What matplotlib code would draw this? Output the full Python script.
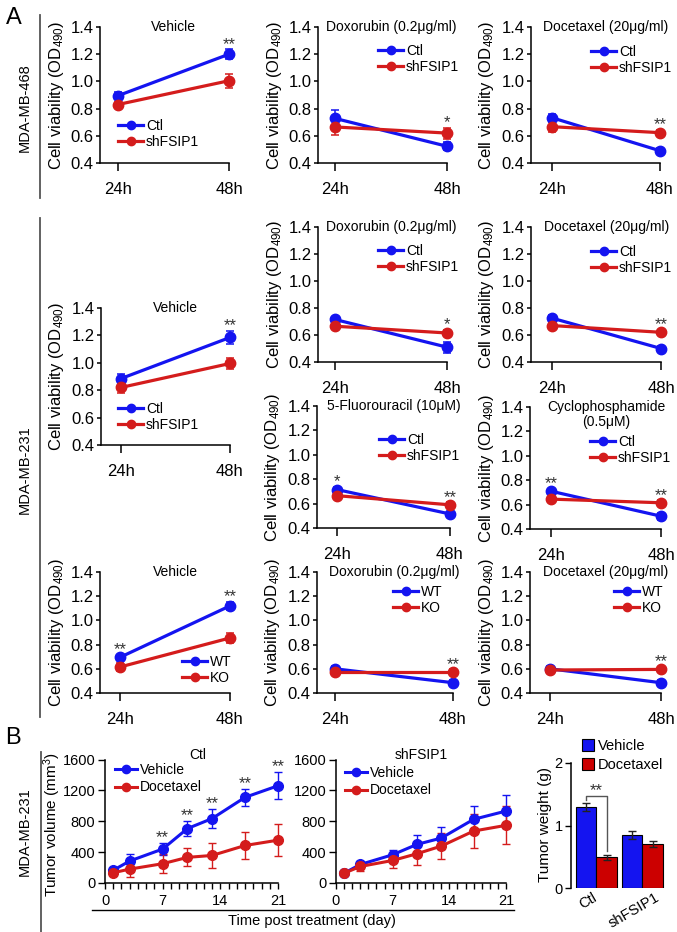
import numpy as np
import matplotlib
matplotlib.use("Agg")
import matplotlib.pyplot as plt
import matplotlib.transforms as mtransforms
from matplotlib.lines import Line2D
from matplotlib.patches import Patch
from matplotlib.ticker import MultipleLocator

plt.rcParams["font.family"] = ["Liberation Sans", "DejaVu Sans"]
plt.rcParams["mathtext.fontset"] = "custom"
plt.rcParams["mathtext.rm"] = "Liberation Sans"
plt.rcParams["mathtext.it"] = "Liberation Sans:italic"
plt.rcParams["axes.linewidth"] = 1.1

W, H = 677, 932
BLUE = "#1414f0"
RED = "#d41c1c"
BAR_RED = "#cc0000"
STAR = "#333333"

# ------------------------------------------------------------
# Data - panel A (cell viability, OD490)
# ------------------------------------------------------------
time_labels = ["24h", "48h"]

# MDA-MB-468, Ctl vs shFSIP1
v468_ctl, v468_ctl_err = [0.895, 1.200], [0.025, 0.035]
v468_sh, v468_sh_err = [0.830, 1.005], [0.020, 0.050]
dox468_ctl, dox468_ctl_err = [0.728, 0.523], [0.060, 0.030]
dox468_sh, dox468_sh_err = [0.665, 0.620], [0.060, 0.040]
doc468_ctl, doc468_ctl_err = [0.733, 0.490], [0.030, 0.020]
doc468_sh, doc468_sh_err = [0.667, 0.623], [0.040, 0.020]

# MDA-MB-231, Ctl vs shFSIP1
v231_ctl, v231_ctl_err = [0.885, 1.185], [0.030, 0.050]
v231_sh, v231_sh_err = [0.820, 0.995], [0.040, 0.040]
dox231_ctl, dox231_ctl_err = [0.715, 0.510], [0.020, 0.040]
dox231_sh, dox231_sh_err = [0.665, 0.615], [0.020, 0.020]
doc231_ctl, doc231_ctl_err = [0.725, 0.500], [0.020, 0.020]
doc231_sh, doc231_sh_err = [0.670, 0.620], [0.020, 0.020]
fu231_ctl, fu231_ctl_err = [0.715, 0.515], [0.020, 0.020]
fu231_sh, fu231_sh_err = [0.665, 0.590], [0.030, 0.020]
cyc231_ctl, cyc231_ctl_err = [0.710, 0.505], [0.020, 0.030]
cyc231_sh, cyc231_sh_err = [0.645, 0.615], [0.020, 0.020]

# MDA-MB-231, WT vs KO
vko_wt, vko_wt_err = [0.695, 1.120], [0.020, 0.030]
vko_ko, vko_ko_err = [0.615, 0.855], [0.030, 0.040]
doxko_wt, doxko_wt_err = [0.600, 0.485], [0.020, 0.020]
doxko_ko, doxko_ko_err = [0.575, 0.575], [0.020, 0.020]
docko_wt, docko_wt_err = [0.600, 0.485], [0.020, 0.020]
docko_ko, docko_ko_err = [0.590, 0.595], [0.020, 0.020]

# ------------------------------------------------------------
# Data - panel B (xenograft)
# ------------------------------------------------------------
days = [1, 3, 7, 10, 13, 17, 21]
ctl_vehicle = [165, 285, 440, 705, 835, 1110, 1260]
ctl_vehicle_err = [30, 90, 80, 100, 120, 110, 175]
ctl_docetaxel = [133, 180, 250, 332, 357, 486, 555]
ctl_docetaxel_err = [25, 105, 120, 115, 160, 175, 205]
sh_vehicle = [127, 240, 366, 500, 582, 825, 932]
sh_vehicle_err = [20, 40, 65, 125, 143, 170, 213]
sh_docetaxel = [127, 214, 292, 379, 478, 673, 747]
sh_docetaxel_err = [20, 60, 100, 143, 165, 215, 247]
ctl_star_idx = [2, 3, 4, 5, 6]

weight_groups = ["Ctl", "shFSIP1"]
weight_vehicle, weight_vehicle_err = [1.30, 0.85], [0.06, 0.07]
weight_docetaxel, weight_docetaxel_err = [0.49, 0.71], [0.04, 0.05]


fig = plt.figure(figsize=(W / 100, H / 100), dpi=100)


def fx(x):
    return x / W


def fy(y):
    return 1 - y / H


def axes_px(left, right, top, bottom):
    return fig.add_axes([fx(left), fy(bottom), (right - left) / W, (bottom - top) / H])


def no_clip(container):
    for art in container.get_children():
        art.set_clip_on(False)


def viability_panel(box, title, m1, e1, m2, e2, names, stars, leg_xy):
    yax, x24, x48, top, bottom = box
    ax = axes_px(yax, x48, top, bottom)
    x = np.arange(2)
    h1 = ax.errorbar(x, m1, yerr=e1, color=BLUE, lw=2.3, marker="o", ms=7.5,
                     capsize=3, elinewidth=1.1, capthick=1.1)
    h2 = ax.errorbar(x, m2, yerr=e2, color=RED, lw=2.3, marker="o", ms=7.5,
                     capsize=3, elinewidth=1.1, capthick=1.1)
    no_clip(h1)
    no_clip(h2)

    ax.set_xlim(-(x24 - yax) / (x48 - x24), 1)
    ax.set_ylim(0.4, 1.4)
    ax.set_xticks(x, time_labels)
    ax.set_yticks(np.arange(0.4, 1.41, 0.2))
    ax.set_yticklabels([f"{v:.1f}" for v in np.arange(0.4, 1.41, 0.2)])
    for s in ["top", "right"]:
        ax.spines[s].set_visible(False)
    ax.tick_params(axis="x", length=5.5, width=1.1, pad=8, labelsize=12)
    ax.tick_params(axis="y", length=3, width=1.1, pad=1.5, labelsize=12)

    if "\n" in title:
        first, second = title.split("\n")
        ax.text(0.5, 1.4, first, ha="center", va="center", fontsize=10)
        ax.annotate(second, (0.5, 1.4), xytext=(0, -10.5), textcoords="offset points",
                    ha="center", va="center", fontsize=10)
    else:
        ax.text(0.5, 1.4, title, ha="center", va="center", fontsize=10)

    for idx, txt in stars:
        ytop = max(m1[idx] + e1[idx], m2[idx] + e2[idx])
        ax.annotate(txt, (idx, ytop), xytext=(0, 0.5), textcoords="offset points",
                    ha="center", va="baseline", fontsize=12, color=STAR,
                    annotation_clip=False)

    lx, ly = leg_xy
    ax.legend([h1[0], h2[0]], names, loc="upper left",
              bbox_to_anchor=(fx(lx), fy(ly - 8)), bbox_transform=fig.transFigure,
              frameon=False, fontsize=10, handlelength=1.8, handletextpad=0.2,
              labelspacing=0.12, borderpad=0, borderaxespad=0, markerscale=0.8)

    fig.text(fx(yax - 44), fy((top + bottom) / 2), "Cell viability (OD$_{490}$)",
             rotation=90, ha="center", va="center", fontsize=12)
    return ax


sh_names = ["Ctl", "shFSIP1"]
ko_names = ["WT", "KO"]

# Row 1: MDA-MB-468
viability_panel((100, 118, 229, 27, 163), "Vehicle",
                v468_ctl, v468_ctl_err, v468_sh, v468_sh_err, sh_names,
                [(1, "**")], (118, 127))
viability_panel((318, 335, 447, 27, 163), "Doxorubin (0.2μg/ml)",
                dox468_ctl, dox468_ctl_err, dox468_sh, dox468_sh_err, sh_names,
                [(1, "*")], (378, 52))
viability_panel((531, 552, 660, 27, 163), "Docetaxel (20μg/ml)",
                doc468_ctl, doc468_ctl_err, doc468_sh, doc468_sh_err, sh_names,
                [(1, "**")], (591, 53))

# Rows 2-3: MDA-MB-231 shFSIP1
viability_panel((101, 121, 230, 308, 445), "Vehicle",
                v231_ctl, v231_ctl_err, v231_sh, v231_sh_err, sh_names,
                [(1, "**")], (118, 410))
viability_panel((318, 335, 447, 227, 362), "Doxorubin (0.2μg/ml)",
                dox231_ctl, dox231_ctl_err, dox231_sh, dox231_sh_err, sh_names,
                [(1, "*")], (378, 252))
viability_panel((531, 552, 661, 227, 362), "Docetaxel (20μg/ml)",
                doc231_ctl, doc231_ctl_err, doc231_sh, doc231_sh_err, sh_names,
                [(1, "**")], (591, 253))
viability_panel((317, 337, 450, 406, 528), "5-Fluorouracil (10μM)",
                fu231_ctl, fu231_ctl_err, fu231_sh, fu231_sh_err, sh_names,
                [(0, "*"), (1, "**")], (379, 441))
viability_panel((530, 551, 661, 407, 529), "Cyclophosphamide\n(0.5μM)",
                cyc231_ctl, cyc231_ctl_err, cyc231_sh, cyc231_sh_err, sh_names,
                [(0, "**"), (1, "**")], (590, 443))

# Row 4: MDA-MB-231 WT / KO
viability_panel((100, 120, 230, 572, 693), "Vehicle",
                vko_wt, vko_wt_err, vko_ko, vko_ko_err, ko_names,
                [(0, "**"), (1, "**")], (182, 663))
viability_panel((317, 335, 453, 572, 693), "Doxorubin (0.2μg/ml)",
                doxko_wt, doxko_wt_err, doxko_ko, doxko_ko_err, ko_names,
                [(1, "**")], (393, 593))
viability_panel((530, 550, 661, 572, 693), "Docetaxel (20μg/ml)",
                docko_wt, docko_wt_err, docko_ko, docko_ko_err, ko_names,
                [(1, "**")], (614, 593))


# ------------------------------------------------------------
# Panel B: tumor volume curves
# ------------------------------------------------------------
def volume_panel(left, right, title, title_x, veh, veh_err, doc, doc_err,
                 star_idx, leg_xy):
    ax = axes_px(left, right, 759.5, 883)
    h1 = ax.errorbar(days, veh, yerr=veh_err, color=BLUE, lw=2.2, marker="o", ms=7,
                     capsize=3, elinewidth=1.0, capthick=1.0)
    h2 = ax.errorbar(days, doc, yerr=doc_err, color=RED, lw=2.2, marker="o", ms=7,
                     capsize=3, elinewidth=1.0, capthick=1.0)
    no_clip(h1)
    no_clip(h2)
    ax.set_xlim(0, 21)
    ax.set_ylim(0, 1600)
    ax.set_xticks([0, 7, 14, 21])
    ax.xaxis.set_minor_locator(MultipleLocator(1))
    ax.set_yticks(np.arange(0, 1601, 400))
    for s in ["top", "right"]:
        ax.spines[s].set_visible(False)
    ax.tick_params(axis="x", which="both", length=4, width=1.0, pad=4, labelsize=10.5)
    ax.tick_params(axis="y", length=5, width=1.0, pad=2, labelsize=10.5)
    ax.annotate(title, (title_x, 1600), xytext=(0, 3), textcoords="offset points",
                ha="center", va="center", fontsize=10, annotation_clip=False)

    for idx in star_idx:
        ax.annotate("**", (days[idx], veh[idx] + veh_err[idx]), xytext=(0, 0.5),
                    textcoords="offset points", ha="center", va="baseline",
                    fontsize=12, color=STAR, annotation_clip=False)

    lx, ly = leg_xy
    ax.legend([h1[0], h2[0]], ["Vehicle", "Docetaxel"], loc="upper left",
              bbox_to_anchor=(fx(lx), fy(ly - 8)), bbox_transform=fig.transFigure,
              frameon=False, fontsize=10, handlelength=1.6, handletextpad=0.2,
              labelspacing=0.25, borderpad=0, borderaxespad=0, markerscale=0.85)
    return ax


volume_panel(105, 278, "Ctl", 11.3, ctl_vehicle, ctl_vehicle_err,
             ctl_docetaxel, ctl_docetaxel_err, ctl_star_idx, (115, 771))
volume_panel(336, 506, "shFSIP1", 10.5, sh_vehicle, sh_vehicle_err,
             sh_docetaxel, sh_docetaxel_err, [], (345, 774))

fig.text(fx(52), fy(825), "Tumor volume (mm$^3$)", rotation=90,
         ha="center", va="center", fontsize=11)
fig.add_artist(Line2D([fx(92), fx(514)], [fy(910), fy(910)], color="black", lw=1.0))
fig.text(fx(312), fy(921), "Time post treatment (day)", ha="center", va="center",
         fontsize=10.5)

# ------------------------------------------------------------
# Panel B: tumor weight bars
# ------------------------------------------------------------
axb = axes_px(571, 665, 763, 888)
xg = np.arange(len(weight_groups))
bw = 0.448
axb.bar(xg - bw / 2, weight_vehicle, bw, yerr=weight_vehicle_err, color=BLUE,
        edgecolor="black", linewidth=0.8, capsize=3,
        error_kw=dict(elinewidth=1.0, capthick=1.0, ecolor="#222222"))
axb.bar(xg + bw / 2, weight_docetaxel, bw, yerr=weight_docetaxel_err, color=BAR_RED,
        edgecolor="black", linewidth=0.8, capsize=3,
        error_kw=dict(elinewidth=1.0, capthick=1.0, ecolor="#222222"))
axb.set_xlim(-0.55, 1.49)
axb.set_ylim(0, 2)
axb.set_yticks([0, 1, 2])
axb.set_xticks(xg, weight_groups, rotation=30, ha="center")
for s in ["top", "right", "bottom"]:
    axb.spines[s].set_visible(False)
axb.tick_params(axis="x", length=0, pad=2, labelsize=10.5)
axb.tick_params(axis="y", length=4, width=1.0, pad=2, labelsize=10.5)
shift = mtransforms.ScaledTranslation(-6 / 72, 0, fig.dpi_scale_trans)
for lbl in axb.get_xticklabels():
    lbl.set_transform(lbl.get_transform() + shift)

# significance bracket between Ctl bars
xv, xd = -bw / 2, bw / 2
ytop = weight_vehicle[0] + weight_vehicle_err[0] + 0.12
axb.plot([xv, xv, xd, xd],
         [weight_vehicle[0] + weight_vehicle_err[0] + 0.05, ytop, ytop,
          weight_docetaxel[0] + weight_docetaxel_err[0] + 0.06],
         color="#555555", lw=1.0)
axb.annotate("**", (0, ytop), xytext=(0, 0), textcoords="offset points",
             ha="center", va="baseline", fontsize=12, color=STAR)

axb.legend(handles=[Patch(facecolor=BLUE, edgecolor="black", lw=0.8),
                    Patch(facecolor=BAR_RED, edgecolor="black", lw=0.8)],
           labels=["Vehicle", "Docetaxel"], loc="upper left",
           bbox_to_anchor=(fx(582), fy(739)), bbox_transform=fig.transFigure,
           frameon=False, fontsize=10.5, handlelength=0.8, handleheight=0.8,
           handletextpad=0.3, labelspacing=0.35, borderpad=0, borderaxespad=0)
fig.text(fx(545), fy(825), "Tumor weight (g)", rotation=90,
         ha="center", va="center", fontsize=11)

# ------------------------------------------------------------
# Panel letters, cell line labels and separators
# ------------------------------------------------------------
fig.text(fx(14), fy(18), "A", ha="center", va="center", fontsize=17)
fig.text(fx(13), fy(738), "B", ha="center", va="center", fontsize=17)

sep = "#555555"
fig.add_artist(Line2D([fx(40), fx(40)], [fy(15), fy(198)], color=sep, lw=1.3))
fig.add_artist(Line2D([fx(40), fx(40)], [fy(218), fy(717)], color=sep, lw=1.3))
fig.add_artist(Line2D([fx(41), fx(41)], [fy(752), fy(932)], color=sep, lw=1.3))

fig.text(fx(25), fy(108), "MDA-MB-468", rotation=90, ha="center", va="center", fontsize=10.5)
fig.text(fx(25), fy(470), "MDA-MB-231", rotation=90, ha="center", va="center", fontsize=10.5)
fig.text(fx(25), fy(832), "MDA-MB-231", rotation=90, ha="center", va="center", fontsize=10.5)

fig.savefig("out.png", dpi=100)
